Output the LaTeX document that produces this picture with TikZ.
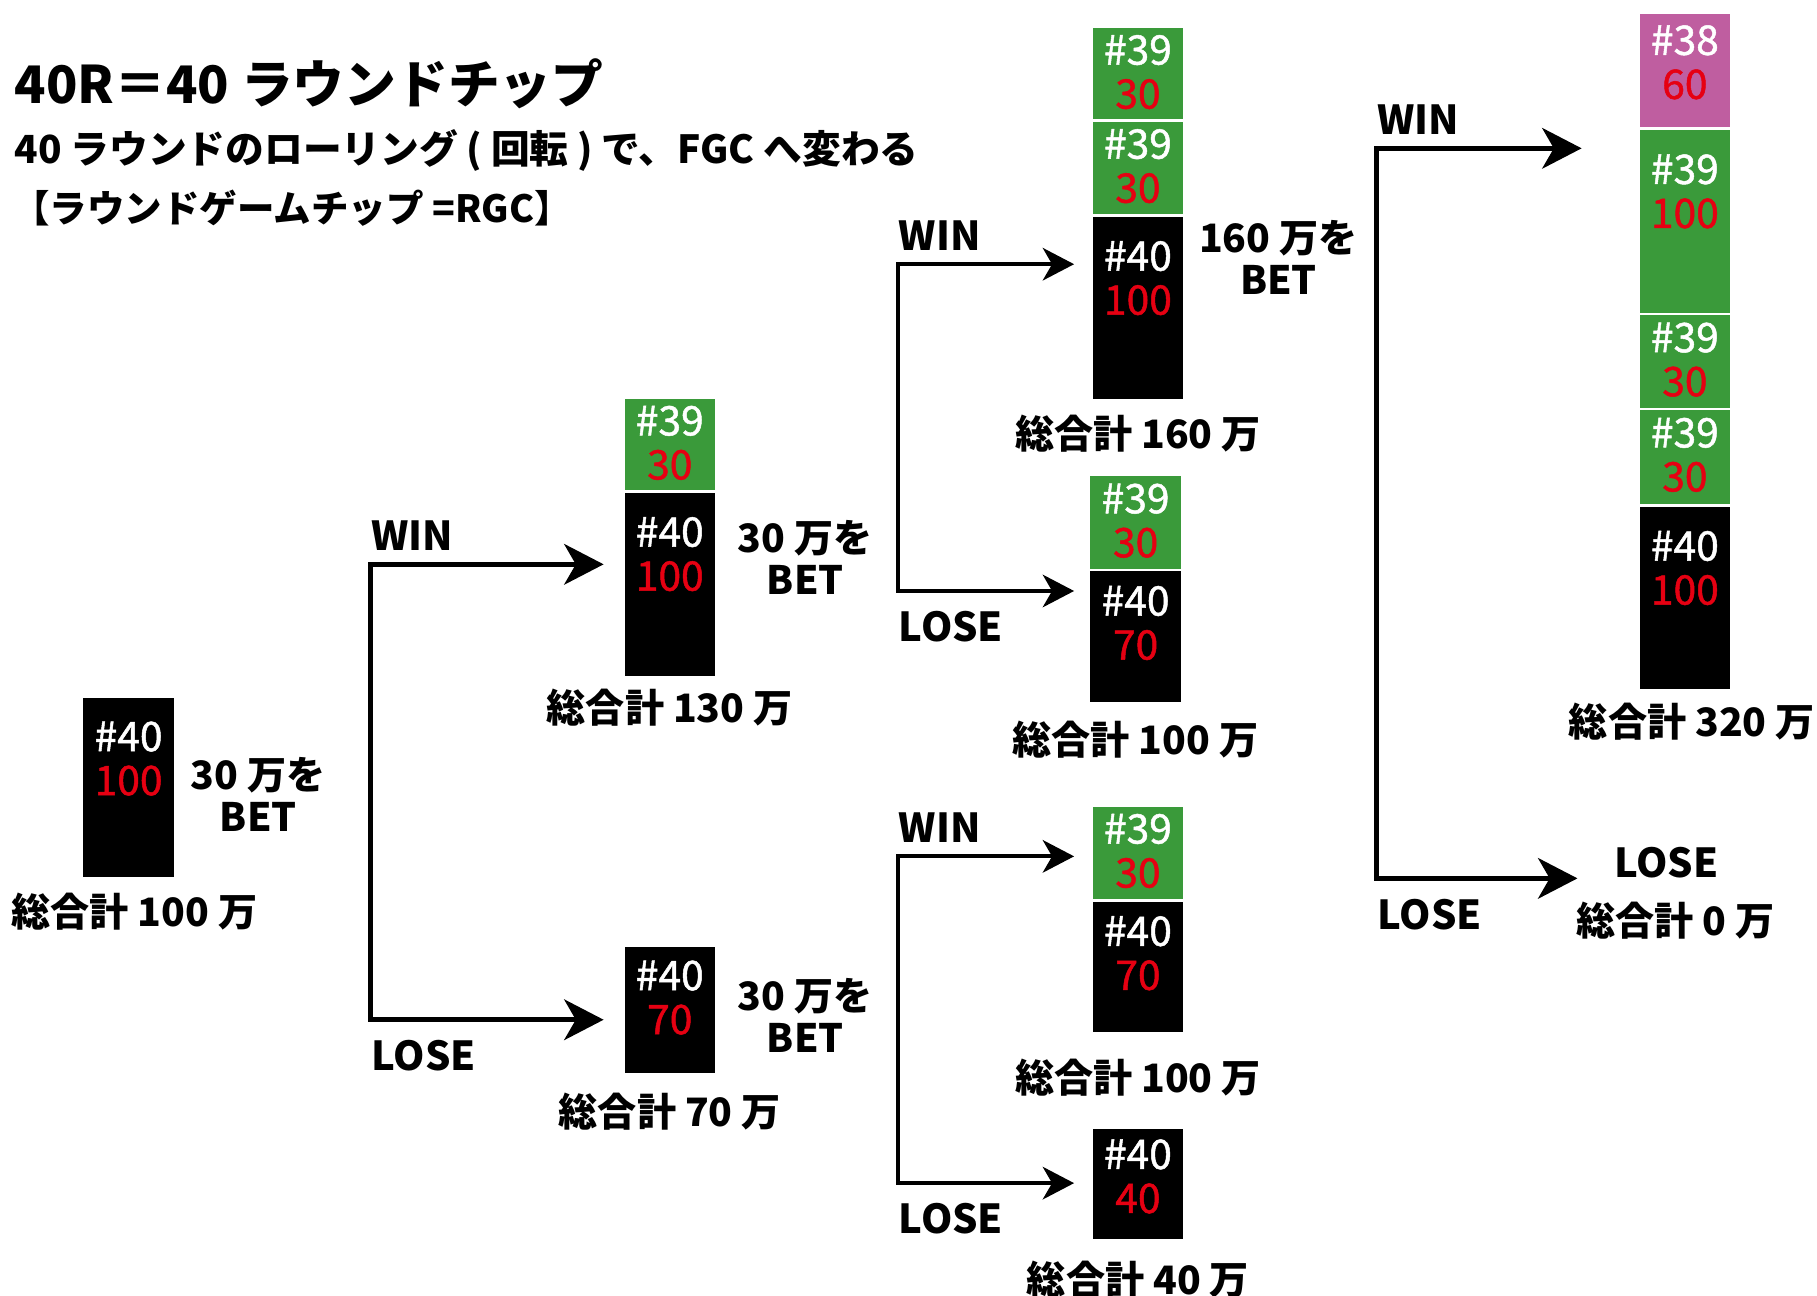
\documentclass[tikz,border=0pt]{standalone}
\usepackage{fontspec}
\setmainfont{Noto Sans CJK JP}
\newfontface\chipfont{Noto Sans CJK JP}[FakeBold=1.2]
\usetikzlibrary{positioning,arrows.meta}
\definecolor{chipgreen}{RGB}{58,154,58}
\definecolor{chippink}{RGB}{191,94,160}
\definecolor{chipred}{RGB}{230,0,18}

% one chip of a stack: name, x, top, height, colour, number, value
\newcommand{\chip}[7]{%
  \node[chipbox,fill=#5,minimum height=#4*0.01cm] (#1) at (#2,#3) {};
  \pgfmathsetmacro{\chipoff}{min(#4/2,40+0.19*(#4-80))}%
  \node[chiptext] (#1t) at (#2,#3+\chipoff) {#6\\{\color{chipred}#7}};%
}

\begin{document}
\begin{tikzpicture}[x=0.01cm,y=-0.01cm,
    chipbox/.style={rectangle,anchor=north,draw=white,line width=0.6pt,minimum width=0.8cm,inner sep=0pt},
    chiptext/.style={align=center,text=white,inner sep=0pt,font=\chipfont\fontsize{10}{10.8}\selectfont},
    betnote/.style={align=center,inner sep=0pt,font=\bfseries\fontsize{9.6}{10.3}\selectfont},
    sumtext/.style={inner sep=0pt,font=\bfseries\fontsize{9.6}{12}\selectfont},
    wltext/.style={inner sep=0pt,font=\bfseries\fontsize{9.8}{12}\selectfont},
    forkline/.style={line width=1.2pt,{Stealth[length=0.34cm,width=0.35cm,inset=0.1cm]}-{Stealth[length=0.34cm,width=0.35cm,inset=0.1cm]}},
    forkline small/.style={line width=1pt,{Stealth[length=0.27cm,width=0.28cm,inset=0.08cm]}-{Stealth[length=0.27cm,width=0.28cm,inset=0.08cm]}}]
        \useasboundingbox (0,0) rectangle (1568,1118);

        % heading
        \node[anchor=west,inner sep=0pt,font=\bfseries\fontsize{12.7}{15}\selectfont] (title) at (12,72) {40R＝40 ラウンドチップ};
        \node[anchor=west,inner sep=0pt,font=\bfseries\fontsize{9.5}{11}\selectfont] (subtitle) at (12,130) {40 ラウンドのローリング ( 回転 ) で、FGC へ変わる};
        \node[anchor=west,inner sep=0pt,font=\bfseries\fontsize{9.2}{11}\selectfont] (note) at (10,180) {【ラウンドゲームチップ =RGC】};

        % stacks
        \chip{A40}{111}{600}{157}{black}{\#40}{100}

        \chip{B39}{578}{342}{81}{chipgreen}{\#39}{30}
        \chip{B40}{578}{423}{160}{black}{\#40}{100}
        \chip{C40}{578}{815}{111}{black}{\#40}{70}

        \chip{D39a}{982}{22}{81}{chipgreen}{\#39}{30}
        \chip{D39b}{982}{103}{82}{chipgreen}{\#39}{30}
        \chip{D40}{982}{185}{159}{black}{\#40}{100}
        \chip{E39}{980}{409}{82}{chipgreen}{\#39}{30}
        \chip{E40}{980}{491}{115}{black}{\#40}{70}
        \chip{F39}{982}{694}{82}{chipgreen}{\#39}{30}
        \chip{F40}{982}{776}{115}{black}{\#40}{70}
        \chip{G40}{982}{972}{97}{black}{\#40}{40}

        \chip{H38}{1454}{10}{100}{chippink}{\#38}{60}
        \chip{H39a}{1454}{110}{160}{chipgreen}{\#39}{100}
        \chip{H39b}{1454}{270}{82}{chipgreen}{\#39}{30}
        \chip{H39c}{1454}{352}{83}{chipgreen}{\#39}{30}
        \chip{H40}{1454}{435}{160}{black}{\#40}{100}

        % bets and totals
        \node[betnote,right=0.12cm of A40,yshift=-0.06cm] (betA) {30 万を\\BET};
        \node[betnote,right=0.17cm of B40,yshift=0.23cm] (betB) {30 万を\\BET};
        \node[betnote,right=0.17cm of C40,yshift=-0.05cm] (betC) {30 万を\\BET};
        \node[betnote,right=0.11cm of D40,yshift=0.43cm] (betD) {160 万を\\BET};

        \node[sumtext,below=0.11cm of A40,xshift=0.05cm] (sumA) {総合計 100 万};
        \node[sumtext,below=0.09cm of B40] (sumB) {総合計 130 万};
        \node[sumtext,below=0.14cm of C40] (sumC) {総合計 70 万};
        \node[sumtext,below=0.11cm of D40] (sumD) {総合計 160 万};
        \node[sumtext,below=0.13cm of E40] (sumE) {総合計 100 万};
        \node[sumtext,below=0.20cm of F40] (sumF) {総合計 100 万};
        \node[sumtext,below=0.16cm of G40] (sumG) {総合計 40 万};
        \node[sumtext,below=0.09cm of H40,xshift=0.06cm] (sumH) {総合計 320 万};

        \node[wltext] (lose0) at (1438,744) {LOSE};
        \node[sumtext,below=0.2cm of lose0,xshift=0.08cm] (sum0) {総合計 0 万};

        % forks
        \coordinate (fork1w) at (320,487);
        \coordinate (fork1l) at (320,880);
        \coordinate (fork2w) at (775,228);
        \coordinate (fork2l) at (775,510);
        \coordinate (fork3w) at (775,739);
        \coordinate (fork3l) at (775,1021);
        \coordinate (fork4w) at (1188,128);
        \coordinate (fork4l) at (1188,758);

        \draw[forkline,shorten <=0.16cm,shorten >=0.16cm] (fork1w -| B40.west) -- (fork1w) -- (fork1l) -- (fork1l -| C40.west);
        \draw[forkline small,shorten <=0.14cm,shorten >=0.12cm] (fork2w -| D40.west) -- (fork2w) -- (fork2l) -- (fork2l -| E40.west);
        \draw[forkline small,shorten <=0.14cm,shorten >=0.14cm] (fork3w -| F40.west) -- (fork3w) -- (fork3l) -- (fork3l -| G40.west);
        \draw[forkline,shorten <=0.48cm,shorten >=0.31cm] (fork4w -| H39a.west) -- (fork4w) -- (fork4l) -- (fork4l -| lose0.west);

        \foreach \f in {1,2,3,4} {
            \node[wltext,anchor=south west,yshift=0.11cm] (win\f) at (fork\f w) {WIN};
            \node[wltext,anchor=north west,yshift=-0.17cm] (lose\f) at (fork\f l) {LOSE};
        }
    \end{tikzpicture}
\end{document}
